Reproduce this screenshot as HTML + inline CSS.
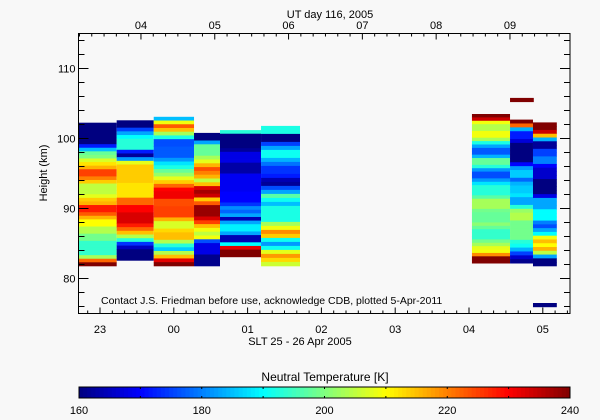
<!DOCTYPE html>
<html><head><meta charset="utf-8"><style>
html,body{margin:0;padding:0;background:#f8f8f8;}
svg{display:block;font-family:"Liberation Sans",sans-serif;}
</style></head><body>
<svg id="chart" width="600" height="420" viewBox="0 0 600 420">
<rect x="0" y="0" width="600" height="420" fill="#f8f8f8"/>
<g id="cells"></g>
<g id="axes"></g>
<text x="330" y="18" font-size="11" text-anchor="middle">UT day 116, 2005</text>
<text x="300" y="345" font-size="11" text-anchor="middle">SLT 25 - 26 Apr 2005</text>
<text transform="translate(47,173) rotate(-90)" font-size="11" text-anchor="middle">Height (km)</text>
<text x="101" y="304" font-size="10.5">Contact J.S. Friedman before use, acknowledge CDB, plotted 5-Apr-2011</text>
<text x="325" y="381" font-size="12" text-anchor="middle">Neutral Temperature [K]</text>
<g id="cbar"></g>
</svg>
<script>
// column time edges in hours after 23:00 SLT
const colStart = [-0.285, 0.226, 0.728, 1.274, 1.626, 2.182, 5.04, 5.556, 5.867];
const colEnd   = [0.226, 0.728, 1.274, 1.626, 2.182, 2.71, 5.556, 5.867, 6.19];
const colTop   = [102.26, 102.6, 103.1, 100.8, 101.2, 101.8, 103.5, 102.7, 102.3];
const colBottom= [81.8, 82.6, 81.8, 81.8, 83.1, 81.8, 82.2, 82.2, 81.8];
// temperatures top->bottom (K)
const col1 = [160,160,160,160,160,160,172,185,198,200,207,212,216,225,225,220,214,205,205,205,208,214,216,228,228,223,216,210,210,204,204,199,199,194,194,194,194,203,222,240];
const col2 = [160,160,175,183,190,193,193,193,172,162,182,208,214,214,214,214,214,212,212,212,212,222,222,230,230,233,233,233,228,222,215,204,193,174,165,160,160,160];
const col3 = [185,209,223,215,203,192,176,176,177,177,177,182,188,192,198,202,208,214,222,230,231,231,224,224,225,225,225,216,207,207,213,215,215,204,193,186,204,215,232,240];
const col4 = [160,160,183,198,198,198,203,208,216,224,220,216,205,215,233,237,234,214,223,238,238,238,233,225,215,209,205,209,176,168,168,168,161,161,161];
const col5 = [193,160,160,160,160,162,168,168,168,163,163,163,169,169,169,169,169,170,170,170,174,181,178,183,164,183,189,189,183,164,164,190,232,240,240];
const col6 = [192,192,160,160,175,183,191,191,184,179,174,174,172,164,162,176,183,197,191,185,192,192,192,192,203,209,219,214,191,182,191,208,218,213,206];
const col7 = [240,234,209,204,204,209,209,203,192,183,177,177,184,198,198,193,182,176,176,182,188,193,193,193,197,203,203,203,199,198,198,198,201,198,194,194,194,199,203,208,209,219,240,240];
const col8 = [240,222,184,172,172,167,160,160,160,160,160,170,182,186,186,178,184,186,186,188,183,183,193,202,204,204,199,199,199,199,199,193,191,184,175,166,161];
const col9 = [240,240,234,215,184,162,162,175,175,180,180,170,166,166,166,160,160,160,160,168,183,183,183,190,190,190,180,176,183,190,209,215,210,216,205,183,160,160];
const columns = [col1,col2,col3,col4,col5,col6,col7,col8,col9];
// isolated segments
const extraStart = [5.556, 5.867];
const extraEnd = [5.878, 6.19];
const extraTop = [105.8, 76.5];
const extraBottom = [105.2, 75.9];
const extraTemp = [240, 160];
// axes data
const yMajor = [80, 90, 100, 110];
const sltLabels = ["23","00","01","02","03","04","05"];
const utLabels = ["04","05","06","07","08","09"];
const utOffset = 0.555; // first UT label (04) in hours after 23 SLT
const cbarTicks = [160, 180, 200, 220, 240];
const tMin = 160, tMax = 240;

const NS = "http://www.w3.org/2000/svg";
const L = 78.5, R = 570, T = 33.5, B = 313.5;
const hMin = 75, hMax = 115;
const xs = t => 100 + t * 73.8;
const ys = h => T + (hMax - h) * (B - T) / (hMax - hMin);
function jet(v) {
  let t = Math.max(0, Math.min(1, (v - tMin) / (tMax - tMin)));
  const c = x => Math.round(255 * Math.max(0, Math.min(1, x)));
  return `rgb(${c(1.5 - Math.abs(4*t - 3))},${c(1.5 - Math.abs(4*t - 2))},${c(1.5 - Math.abs(4*t - 1))})`;
}
function mk(tag, attrs, parent) {
  const e = document.createElementNS(NS, tag);
  for (const k in attrs) e.setAttribute(k, attrs[k]);
  parent.appendChild(e);
  return e;
}
const cells = document.getElementById('cells');
columns.forEach((col, i) => {
  const x0 = xs(colStart[i]), x1 = xs(colEnd[i]);
  const dh = (colTop[i] - colBottom[i]) / col.length;
  col.forEach((v, j) => {
    const y0 = ys(colTop[i] - j * dh), y1 = ys(colTop[i] - (j + 1) * dh);
    const r = mk('rect', {x: x0, y: y0, width: x1 - x0, height: y1 - y0 + 0.4, fill: jet(v)}, cells);
    
    
  });
});
extraTemp.forEach((v, i) => {
  const r = mk('rect', {x: xs(extraStart[i]), y: ys(extraTop[i]), width: xs(extraEnd[i]) - xs(extraStart[i]), height: ys(extraBottom[i]) - ys(extraTop[i]), fill: jet(v)}, cells);
  
  
});
const ax = document.getElementById('axes');
const st = {stroke: '#000', 'stroke-width': 1, fill: 'none'};
const frame = mk('rect', Object.assign({x: L, y: T, width: R - L, height: B - T}, st), ax);


// x ticks (bottom: SLT; top: UT)
for (let k = -3; k <= 40; k++) {
  const t = k / 6;
  let x = xs(t);
  if (x > L && x < R) {
    const len = k % 6 === 0 ? 6 : 3;
    mk('line', Object.assign({x1: x, x2: x, y1: B, y2: B - len}, st), ax);
  }
  x = xs(utOffset + t - 1);
  if (x > L && x < R) {
    const len = k % 6 === 0 ? 6 : 3;
    mk('line', Object.assign({x1: x, x2: x, y1: T, y2: T + len}, st), ax);
  }
}
sltLabels.forEach((s, i) => {
  const tx = mk('text', {x: xs(i), y: 333, 'font-size': 11, 'text-anchor': 'middle'}, ax);
  tx.textContent = s;
  
  
});
utLabels.forEach((s, i) => {
  const tx = mk('text', {x: xs(utOffset + i), y: 29, 'font-size': 11, 'text-anchor': 'middle'}, ax);
  tx.textContent = s;
  
  
});
for (let h = hMin + 1; h < hMax; h++) {
  const maj = yMajor.includes(h);
  if (!maj && h % 2 === 0) continue;
}
for (let h = 76; h < hMax; h += 2) {
  const y = ys(h);
  mk('line', Object.assign({x1: L, x2: L + 6, y1: y, y2: y}, st), ax);
  mk('line', Object.assign({x1: R, x2: R - 6, y1: y, y2: y}, st), ax);
}
yMajor.forEach(h => {
  const y = ys(h);
  mk('line', Object.assign({x1: L, x2: L + 10, y1: y, y2: y}, st), ax);
  mk('line', Object.assign({x1: R, x2: R - 10, y1: y, y2: y}, st), ax);
  const tx = mk('text', {x: L - 3, y: y + 4, 'font-size': 11, 'text-anchor': 'end'}, ax);
  tx.textContent = h;
  
  
});
// colorbar
const cb = document.getElementById('cbar');
const cL = 79, cR = 570, cT = 387, cB = 398;
const n = 120;
for (let i = 0; i < n; i++) {
  const v = tMin + (i + 0.5) / n * (tMax - tMin);
  mk('rect', {x: cL + i * (cR - cL) / n, y: cT, width: (cR - cL) / n + 0.5, height: cB - cT, fill: jet(v)}, cb);
}
mk('rect', Object.assign({x: cL, y: cT, width: cR - cL, height: cB - cT}, st), cb);
for (let v = tMin + 10; v < tMax; v += 10) {
  const x = cL + (v - tMin) / (tMax - tMin) * (cR - cL);
  mk('line', Object.assign({x1: x, x2: x, y1: cT, y2: cT + 2}, st), cb);
  mk('line', Object.assign({x1: x, x2: x, y1: cB, y2: cB - 2}, st), cb);
}
cbarTicks.forEach(v => {
  const tx = mk('text', {x: cL + (v - tMin) / (tMax - tMin) * (cR - cL), y: 414, 'font-size': 11, 'text-anchor': 'middle'}, cb);
  tx.textContent = v;
  
  
});
</script>
</body></html>
